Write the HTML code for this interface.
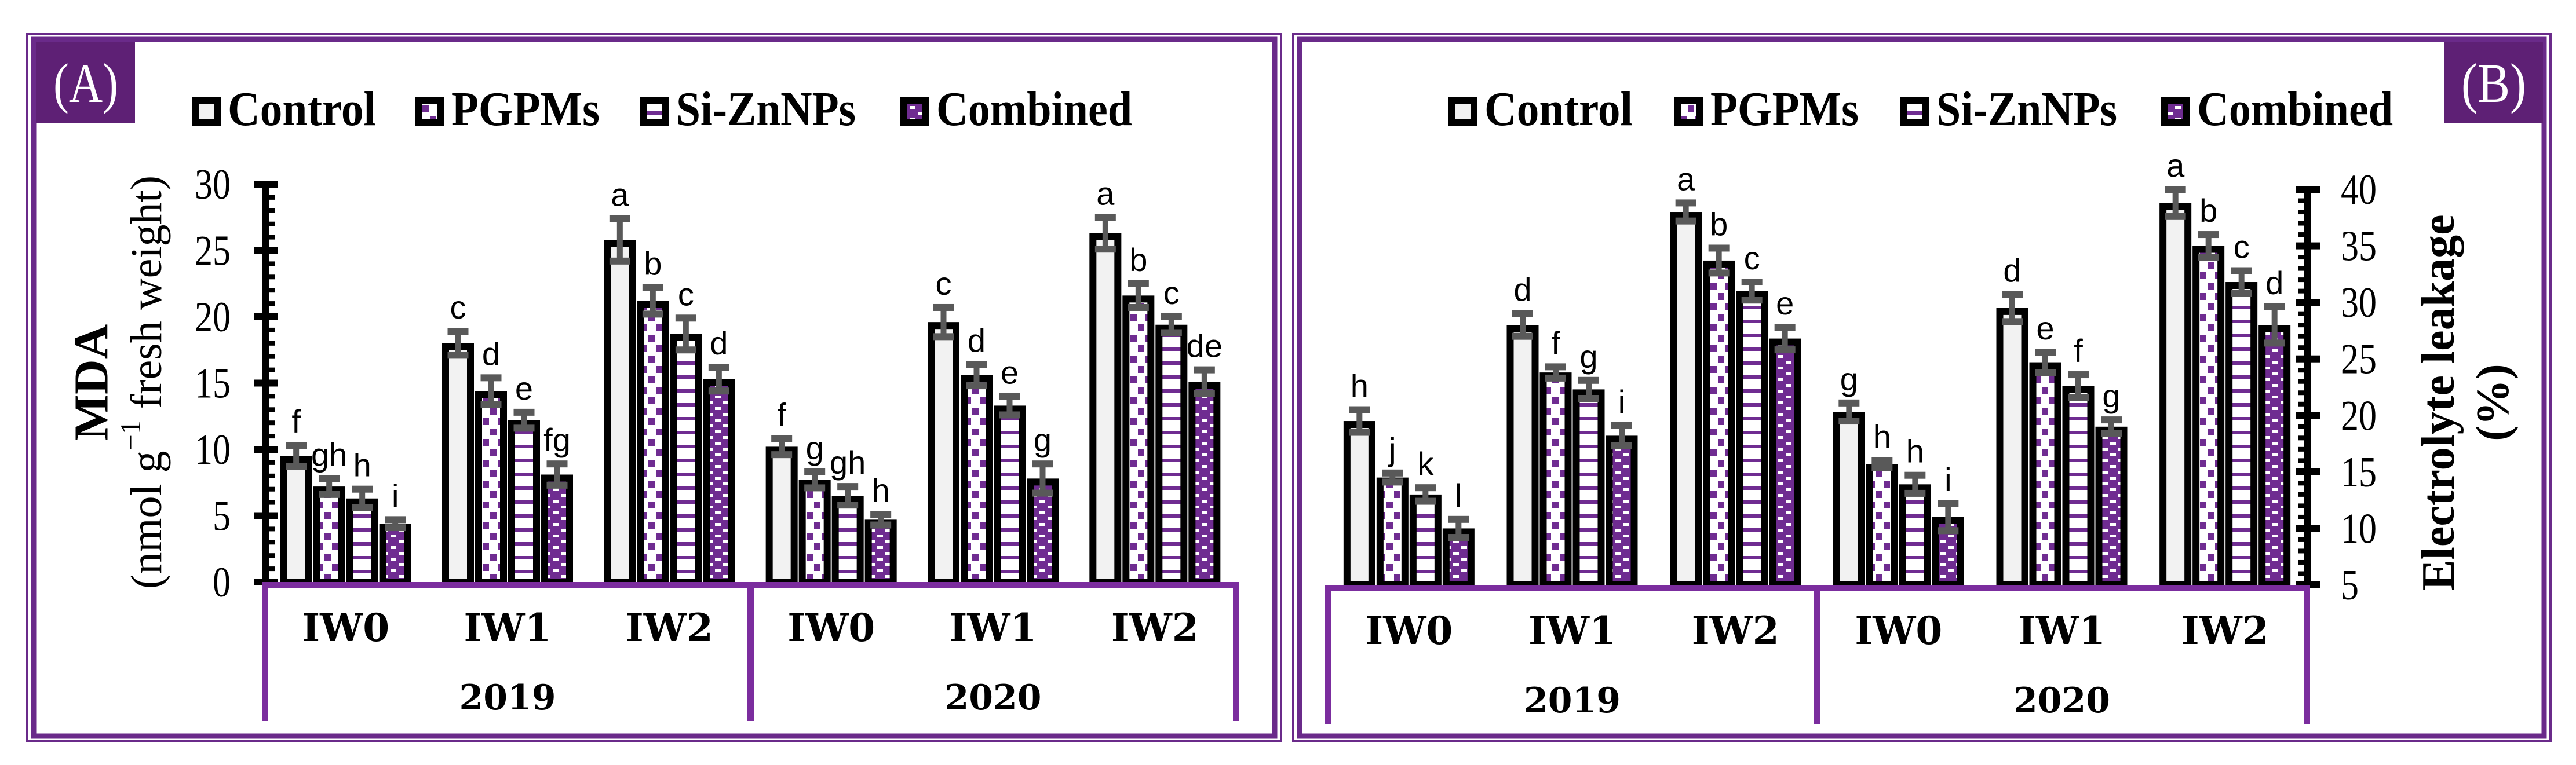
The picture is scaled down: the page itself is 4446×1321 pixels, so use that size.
<!DOCTYPE html>
<html><head><meta charset="utf-8">
<style>
html,body{margin:0;padding:0;background:#fff;}
svg{display:block;}
</style></head>
<body>
<svg id="chart" width="4446" height="1321" viewBox="0 0 4446 1321" xmlns="http://www.w3.org/2000/svg">
<defs>
  <pattern id="pat-pgpm" patternUnits="userSpaceOnUse" width="26" height="36" x="0" y="0">
    <rect width="26" height="36" fill="#fff"/>
    <rect x="1" y="2" width="11" height="12" fill="#6f2c91"/>
    <rect x="14" y="20" width="11" height="12" fill="#6f2c91"/>
  </pattern>
  <pattern id="pat-si" patternUnits="userSpaceOnUse" width="30" height="24">
    <rect width="30" height="24" fill="#fff"/>
    <rect y="0" width="30" height="6" fill="#6f2c91"/>
  </pattern>
  <pattern id="pat-comb" patternUnits="userSpaceOnUse" width="28" height="20">
    <rect width="28" height="20" fill="#6f2c91"/>
    <rect x="2" y="3" width="10" height="5" fill="#fff"/>
    <rect x="16" y="13" width="10" height="5" fill="#fff"/>
  </pattern>
</defs>
<g id="root"></g>
</svg>
<script>
// ---- data ----
const years = ["2019", "2020"];
const irrigation = ["IW0", "IW1", "IW2"];
const treatments = ["Control", "PGPMs", "Si-ZnNPs", "Combined"];
const mdaValues = [
  [9.5, 7.2, 6.3, 4.4], [18.0, 14.4, 12.2, 8.1], [25.8, 21.2, 18.7, 15.3],
  [10.2, 7.7, 6.5, 4.7], [19.6, 15.6, 13.3, 7.8], [26.3, 21.6, 19.4, 15.1]
];
const mdaErrors = [
  [0.8, 0.6, 0.7, 0.3], [0.9, 1.0, 0.6, 0.8], [1.6, 1.0, 1.2, 0.9],
  [0.6, 0.6, 0.7, 0.4], [1.1, 0.8, 0.7, 1.1], [1.2, 0.9, 0.6, 0.9]
];
const mdaLetters = [
  ["f","gh","h","i"], ["c","d","e","fg"], ["a","b","c","d"],
  ["f","g","gh","h"], ["c","d","e","g"], ["a","b","c","de"]
];
const mdaTicks = [0, 5, 10, 15, 20, 25, 30];
const elValues = [
  [19.5, 14.5, 13.0, 10.0], [28.0, 23.8, 22.3, 18.2], [38.0, 33.7, 31.0, 26.8],
  [20.3, 15.7, 13.9, 11.0], [29.5, 24.7, 22.6, 19.0], [38.8, 35.0, 31.8, 28.0]
];
const elErrors = [
  [1.0, 0.4, 0.6, 0.8], [1.0, 0.5, 0.8, 0.9], [0.8, 1.1, 0.8, 1.0],
  [0.8, 0.3, 0.8, 1.2], [1.2, 0.9, 1.0, 0.6], [1.2, 1.0, 1.0, 1.6]
];
const elLetters = [
  ["h","j","k","l"], ["d","f","g","i"], ["a","b","c","e"],
  ["g","h","h","i"], ["d","e","f","g"], ["a","b","c","d"]
];
const elTicks = [5, 10, 15, 20, 25, 30, 35, 40];

// ---- drawing ----
const NS = "http://www.w3.org/2000/svg";
const root = document.getElementById("root");
const PURPLE = "#7b2d9e";
const BORDER = "#6a2a8a";
const fills = ["#f2f2f2", "url(#pat-pgpm)", "url(#pat-si)", "url(#pat-comb)"];
function mk(tag, attrs, parent) {
  const e = document.createElementNS(NS, tag);
  for (const k in attrs) e.setAttribute(k, attrs[k]);
  (parent || root).appendChild(e);
  return e;
}

function panel(cfg) {
  const g = mk("g", {});
  
  
  const f1 = mk("rect", {x: cfg.fx + 2, y: 59, width: cfg.fw - 4, height: 1221, fill: "none", stroke: BORDER, "stroke-width": 4}, g);
  
  
  const f2 = mk("rect", {x: cfg.fx + 13, y: 68, width: cfg.fw - 26, height: 1203, fill: "none", stroke: BORDER, "stroke-width": 9}, g);
  
  
  const lb = mk("rect", {x: cfg.lbx, y: 72, width: 171, height: 141, fill: "#5e2075"}, g);
  
  
  const lt = mk("text", {x: cfg.lbx + 86, y: 176, "text-anchor": "middle", fill: "#fff", "font-family": "Liberation Serif, serif", "font-size": 96, textLength: 112, lengthAdjust: "spacingAndGlyphs"}, g);
  lt.textContent = cfg.label;
  
  

  treatments.forEach((t, i) => {
    const lx = cfg.legendX[i];
    const box = mk("rect", {x: lx + 6, y: 174, width: 38, height: 38, fill: fills[i], stroke: "#000", "stroke-width": 12}, g);
    
    
    const tx = mk("text", {x: lx + 62, y: 216, "font-family": "Liberation Serif, serif", "font-weight": "bold", "font-size": 84, textLength: cfg.legendW[i], lengthAdjust: "spacingAndGlyphs"}, g);
    tx.textContent = t;
    
    
  });

  const y0 = cfg.base, yTop = cfg.top;
  const vmin = cfg.ticks[0], vmax = cfg.ticks[cfg.ticks.length - 1];
  const yScale = v => y0 - (v - vmin) / (vmax - vmin) * (y0 - yTop);
  const catW = (cfg.cx1 - cfg.cx0) / 6;
  const xCenter = k => cfg.cx0 + catW * (k + 0.5);

  const ax = cfg.axisX;
  const axl = mk("rect", {x: ax - 6, y: yTop - 6, width: 12, height: y0 - yTop + 12, fill: "#000"}, g);
  
  
  for (let v = vmin; v <= vmax; v += 1) {
    const yy = yScale(v);
    if ((v - vmin) % 5 === 0) {
      const mt = mk("rect", {x: ax - 21, y: yy - 6, width: 42, height: 12, fill: "#000"}, g);
      
      
    } else {
      const mt = mk("rect", {x: cfg.minorRight ? ax + 5 : ax - 16, y: yy - 4, width: 11, height: 8, fill: "#000"}, g);
      
      
    }
  }
  cfg.ticks.forEach(v => {
    const s = String(v);
    const tl = mk("text", {x: cfg.tickLabelX, y: yScale(v) + 25, "text-anchor": cfg.tickAnchor, "font-family": "Liberation Serif, serif", "font-size": 74, textLength: s.length * 31, lengthAdjust: "spacingAndGlyphs"}, g);
    tl.textContent = s;
    
    
  });
  cfg.title.forEach((tt, i) => {
    const t = mk("text", {x: tt.x, y: cfg.titleY, "text-anchor": "middle", "font-family": "Liberation Serif, serif", "font-size": tt.size || 76, "font-weight": tt.bold ? "bold" : "normal", transform: "rotate(-90 " + tt.x + " " + cfg.titleY + ")", "dominant-baseline": "central"}, g);
    if (tt.sup) {
      t.appendChild(document.createTextNode("(nmol g"));
      const s = mk("tspan", {"baseline-shift": "super", "font-size": 50}, t);
      s.textContent = "\u22121";
      const r = mk("tspan", {}, t);
      r.textContent = " fresh weight)";
    } else {
      t.textContent = tt.text;
    }
    
    
  });

  const barW = 55, pitch = 57;
  cfg.values.forEach((grp, k) => {
    grp.forEach((v, j) => {
      const cx = xCenter(k) + (j - 1.5) * pitch;
      const yv = yScale(v);
      const bar = mk("rect", {x: cx - barW / 2 + 6, y: yv + 6, width: barW - 12, height: y0 - yv - 6, fill: fills[j], stroke: "#000", "stroke-width": 12}, g);
      
      
      const e = cfg.errors[k][j];
      const yHi = yScale(v + e), yLo = yScale(v - e);
      const eg = mk("g", {fill: "#595959"}, g);
      
      
      mk("rect", {x: cx - 5, y: yHi, width: 10, height: yLo - yHi}, eg);
      mk("rect", {x: cx - 18, y: yHi - 6, width: 36, height: 12}, eg);
      mk("rect", {x: cx - 18, y: yLo - 6, width: 36, height: 12}, eg);
      const lt2 = mk("text", {x: cx, y: yHi - 22, "text-anchor": "middle", "font-family": "Liberation Sans, sans-serif", "font-size": 56}, g);
      lt2.textContent = cfg.letters[k][j];
      
      
    });
  });

  const cb = mk("g", {fill: PURPLE}, g);
  
  
  mk("rect", {x: cfg.cx0 - 5, y: y0, width: cfg.cx1 - cfg.cx0 + 10, height: 11}, cb);
  [cfg.cx0, (cfg.cx0 + cfg.cx1) / 2, cfg.cx1].forEach(x => mk("rect", {x: x - 5, y: y0, width: 11, height: 240}, cb));
  for (let k = 0; k < 6; k++) {
    const t = mk("text", {x: xCenter(k), y: y0 + 102, "text-anchor": "middle", "font-family": "DejaVu Serif, serif", "font-weight": "bold", "font-size": 66}, g);
    t.textContent = irrigation[k % 3];
    
    
  }
  years.forEach((yr, i) => {
    const t = mk("text", {x: xCenter(i * 3 + 1), y: y0 + 220, "text-anchor": "middle", "font-family": "DejaVu Serif, serif", "font-weight": "bold", "font-size": 60}, g);
    t.textContent = yr;
    
    
  });
}

panel({
  name: "panel-a-mda", label: "(A)", fx: 45, fw: 2168, lbx: 62,
  legendX: [331, 717, 1105, 1554], legendW: [256, 256, 310, 338],
  base: 1005, top: 318, ticks: mdaTicks, axisX: 459, minorRight: true,
  tickLabelX: 398, tickAnchor: "end",
  title: [{x: 158, text: "MDA", bold: true, size: 84}, {x: 253, sup: true}], titleY: 660,
  cx0: 457, cx1: 2133, values: mdaValues, errors: mdaErrors, letters: mdaLetters
});
panel({
  name: "panel-b-electrolyte-leakage", label: "(B)", fx: 2230, fw: 2174, lbx: 4218,
  legendX: [2500, 2890, 3280, 3730], legendW: [256, 256, 312, 338],
  base: 1010, top: 327, ticks: elTicks, axisX: 3983, minorRight: false,
  tickLabelX: 4040, tickAnchor: "start",
  title: [{x: 4209, text: "Electrolyte leakage", bold: true, size: 80}, {x: 4303, text: "(%)", bold: true, size: 80}], titleY: 695,
  cx0: 2291, cx1: 3981, values: elValues, errors: elErrors, letters: elLetters
});
</script>
</body></html>
